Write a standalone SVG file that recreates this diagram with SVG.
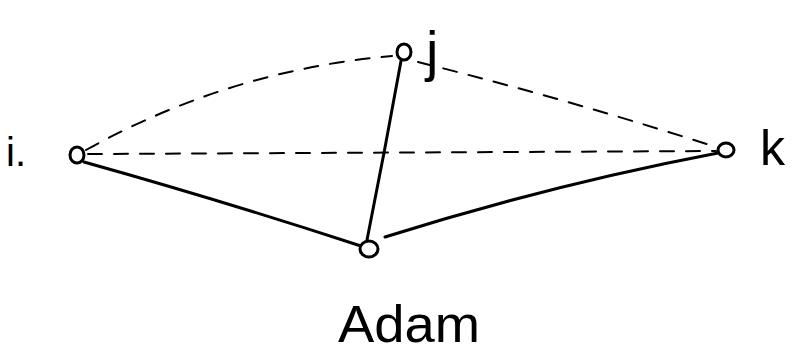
<svg xmlns="http://www.w3.org/2000/svg" width="795" height="361" viewBox="0 0 795 361">
<style>
.node{fill:#fff;stroke:#000;stroke-width:3}
.solid{fill:none;stroke:#000;stroke-width:3;stroke-linecap:round}
.dash{fill:none;stroke:#000;stroke-width:2;stroke-dasharray:14 12;stroke-linecap:round}
.lbl{font-family:"Liberation Sans",sans-serif;fill:#000}
</style>
<rect width="795" height="361" fill="#fff"/>
<g id="connectors">
<path class="solid" d="M84 162 Q220 200 361 246"/>
<path class="solid" d="M401 61 Q385 150 367 240"/>
<path class="solid" d="M385 237 Q550 185 718 153"/>
<path class="dash" d="M86 150 Q230 70 392 56"/>
<path class="dash" d="M418 62 Q570 100 716 147"/>
<path class="dash" d="M88 154 L716 151"/>
</g>
<g id="node-i">
<ellipse class="node" cx="77" cy="155" rx="7" ry="8"/>
<text class="lbl" x="6" y="166" font-size="40">i.</text>
</g>
<g id="node-j">
<ellipse class="node" cx="404" cy="52" rx="7" ry="8"/>
<text class="lbl" x="426" y="70" font-size="56">j</text>
</g>
<g id="node-k">
<ellipse class="node" cx="726" cy="150" rx="8" ry="7"/>
<text class="lbl" x="760" y="165" font-size="50">k</text>
</g>
<g id="node-adam">
<ellipse class="node" cx="369" cy="249" rx="9" ry="8"/>
<text class="lbl" x="338" y="342" font-size="52" textLength="142" lengthAdjust="spacingAndGlyphs">Adam</text>
</g>
</svg>
